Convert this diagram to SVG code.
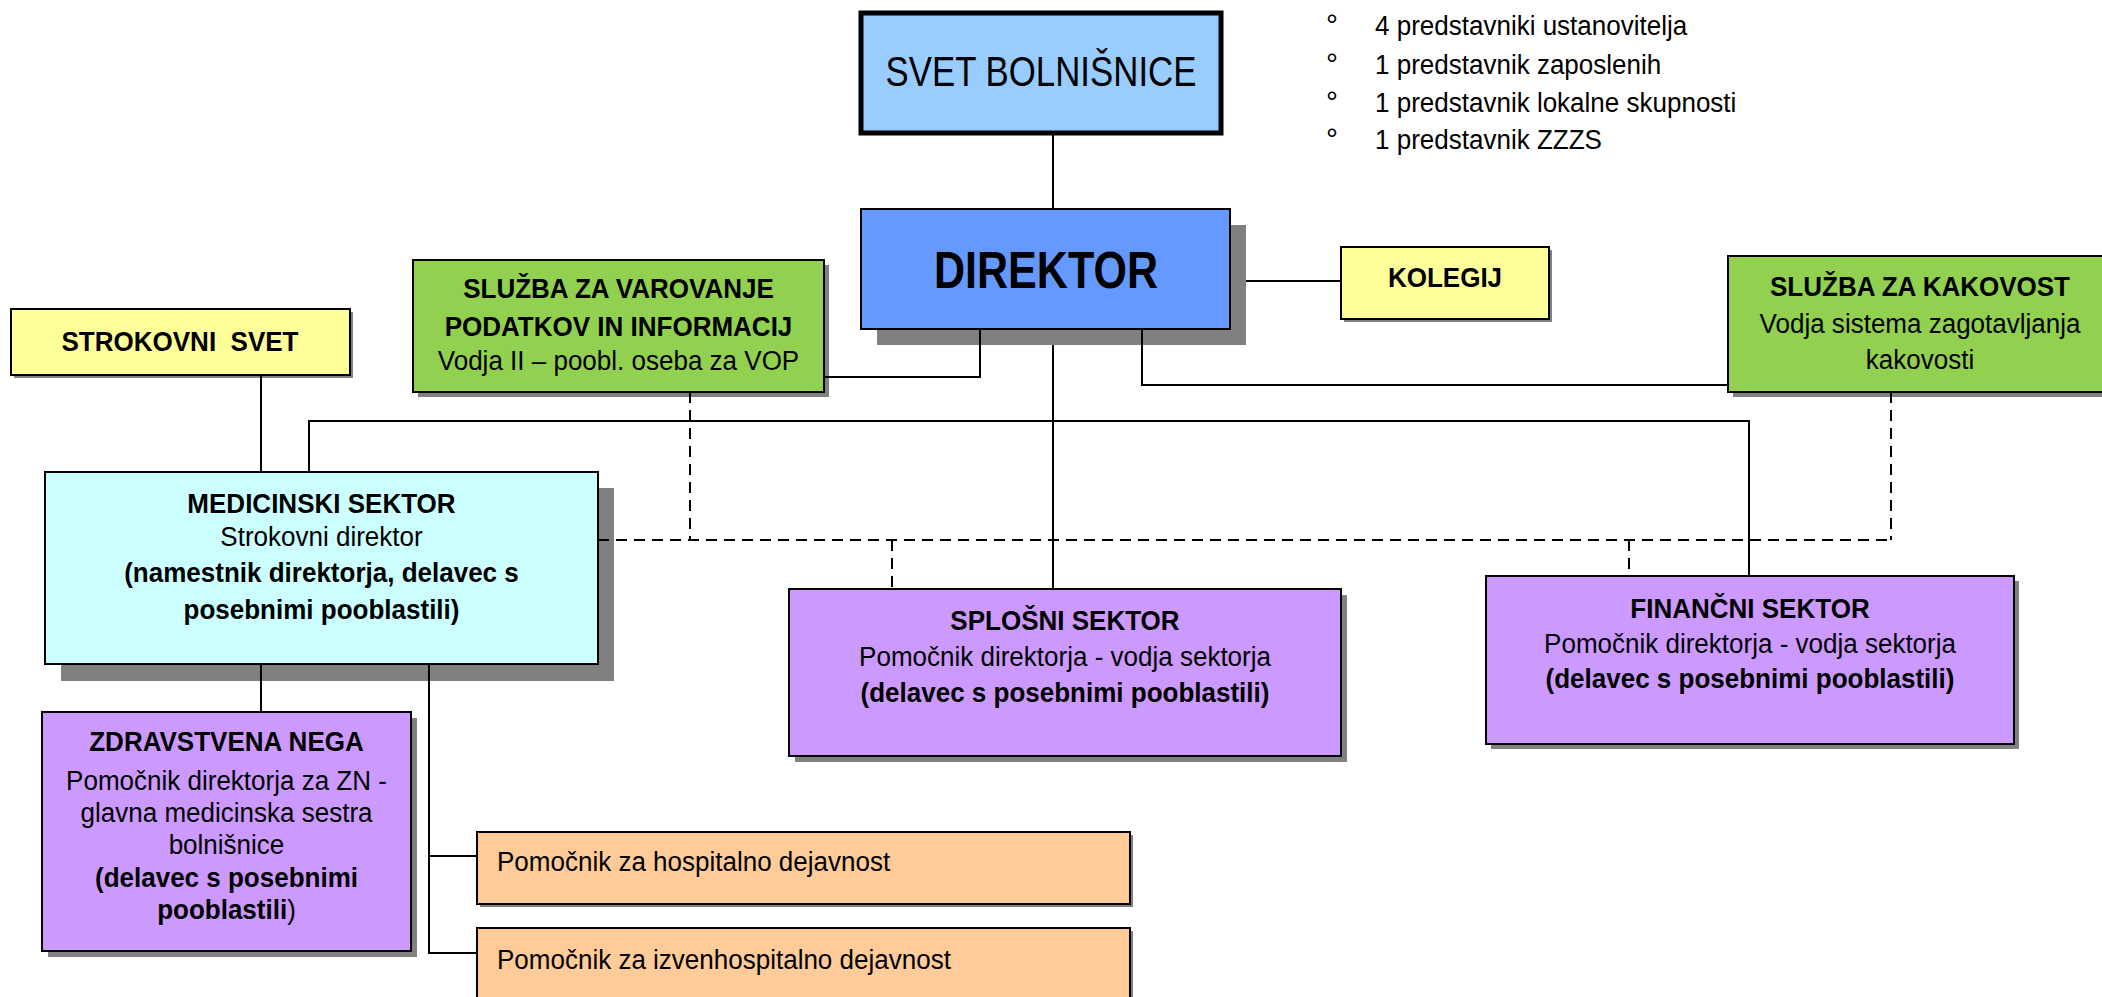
<svg xmlns="http://www.w3.org/2000/svg" width="2102" height="997" viewBox="0 0 2102 997">
<style>
text{font-family:"Liberation Sans",Arial,sans-serif;font-size:28px;fill:#000;transform-box:fill-box;transform-origin:50% 50%;transform:scaleX(.929)}
.l{transform-origin:0 50%}
.c{text-anchor:middle}
.b{font-weight:bold}
.big{transform:none}
.deg{transform:none;font-size:30px}
.box{stroke:#000;stroke-width:2}
.sh{fill:#808080}
.ln{stroke:#000;stroke-width:2;fill:none}
.dl{stroke:#000;stroke-width:2;fill:none;stroke-dasharray:11,7}
</style>
<rect width="2102" height="997" fill="#fff"/>

<g id="svet">
<rect x="861" y="13" width="360" height="120" fill="#99ccff" stroke="#000" stroke-width="5"/>
<text class="c big" x="1041" y="86" textLength="311" lengthAdjust="spacingAndGlyphs" style="font-size:43px">SVET BOLNIŠNICE</text>
</g>

<g id="clani">
<text class="deg" x="1326" y="35">°</text>
<text class="l" x="1375" y="35">4 predstavniki ustanovitelja</text>
<text class="deg" x="1326" y="74">°</text>
<text class="l" x="1375" y="74">1 predstavnik zaposlenih</text>
<text class="deg" x="1326" y="112">°</text>
<text class="l" x="1375" y="112">1 predstavnik lokalne skupnosti</text>
<text class="deg" x="1326" y="149">°</text>
<text class="l" x="1375" y="149">1 predstavnik ZZZS</text>
</g>

<g id="direktor">
<rect class="sh" x="877" y="225" width="369" height="120"/>
<rect class="box" x="861" y="209" width="369" height="120" fill="#6699ff"/>
<text class="c b big" x="1046" y="288" textLength="224" lengthAdjust="spacingAndGlyphs" style="font-size:52px">DIREKTOR</text>
</g>

<g id="kolegij">
<rect class="sh" x="1344" y="250" width="208" height="72"/>
<rect class="box" x="1341" y="247" width="208" height="72" fill="#ffff99"/>
<text class="c b" x="1445" y="287">KOLEGIJ</text>
</g>

<g id="strokovni-svet">
<rect class="sh" x="14" y="312" width="339" height="66"/>
<rect class="box" x="11" y="309" width="339" height="66" fill="#ffff99"/>
<text class="c b" x="180" y="351" xml:space="preserve">STROKOVNI  SVET</text>
</g>

<g id="varovanje">
<rect class="sh" x="418" y="265" width="411" height="132"/>
<rect class="box" x="413" y="260" width="411" height="132" fill="#92d050"/>
<text class="c b" x="618.5" y="298">SLUŽBA ZA VAROVANJE</text>
<text class="c b" x="618.5" y="336">PODATKOV IN INFORMACIJ</text>
<text class="c" x="618.5" y="370">Vodja II – poobl. oseba za VOP</text>
</g>

<g id="kakovost">
<rect class="sh" x="1733" y="261" width="384" height="136"/>
<rect class="box" x="1728" y="256" width="384" height="136" fill="#92d050"/>
<text class="c b" x="1920" y="296">SLUŽBA ZA KAKOVOST</text>
<text class="c" x="1920" y="333">Vodja sistema zagotavljanja</text>
<text class="c" x="1920" y="369">kakovosti</text>
</g>

<g id="medicinski">
<rect class="sh" x="61" y="488" width="553" height="193"/>
<rect class="box" x="45" y="472" width="553" height="192" fill="#ccffff"/>
<text class="c b" x="321.5" y="513">MEDICINSKI SEKTOR</text>
<text class="c" x="321.5" y="546">Strokovni direktor</text>
<text class="c b" x="321.5" y="582">(namestnik direktorja, delavec s</text>
<text class="c b" x="321.5" y="619">posebnimi pooblastili)</text>
</g>

<g id="zdravstvena-nega">
<rect class="sh" x="48" y="718" width="369" height="239"/>
<rect class="box" x="42" y="712" width="369" height="239" fill="#cc99ff"/>
<text class="c b" x="226.5" y="751">ZDRAVSTVENA NEGA</text>
<text class="c" x="226.5" y="790">Pomočnik direktorja za ZN -</text>
<text class="c" x="226.5" y="822">glavna medicinska sestra</text>
<text class="c" x="226.5" y="854">bolnišnice</text>
<text class="c b" x="226.5" y="887">(delavec s posebnimi</text>
<text class="c" x="226.5" y="919"><tspan class="b">pooblastili</tspan>)</text>
</g>

<g id="splosni">
<rect class="sh" x="795" y="595" width="552" height="167"/>
<rect class="box" x="789" y="589" width="552" height="167" fill="#cc99ff"/>
<text class="c b" x="1065" y="630">SPLOŠNI SEKTOR</text>
<text class="c" x="1065" y="666">Pomočnik direktorja - vodja sektorja</text>
<text class="c b" x="1065" y="702">(delavec s posebnimi pooblastili)</text>
</g>

<g id="financni">
<rect class="sh" x="1491" y="581" width="528" height="168"/>
<rect class="box" x="1486" y="576" width="528" height="168" fill="#cc99ff"/>
<text class="c b" x="1750" y="618">FINANČNI SEKTOR</text>
<text class="c" x="1750" y="653">Pomočnik direktorja - vodja sektorja</text>
<text class="c b" x="1750" y="688">(delavec s posebnimi pooblastili)</text>
</g>

<g id="hospitalno">
<rect class="sh" x="480" y="835" width="653" height="72"/>
<rect class="box" x="477" y="832" width="653" height="72" fill="#ffcc99"/>
<text class="l" x="497" y="871">Pomočnik za hospitalno dejavnost</text>
</g>

<g id="izvenhospitalno">
<rect class="sh" x="480" y="931" width="653" height="80"/>
<rect class="box" x="477" y="928" width="653" height="80" fill="#ffcc99"/>
<text class="l" x="497" y="969">Pomočnik za izvenhospitalno dejavnost</text>
</g>

<g id="connectors">
<path class="ln" d="M1053 135V209"/>
<path class="ln" d="M1246 281H1341"/>
<path class="ln" d="M1053 345V589"/>
<path class="ln" d="M980 329V377H824"/>
<path class="ln" d="M1142 329V385H1728"/>
<path class="ln" d="M309 472V421H1749V576"/>
<path class="ln" d="M261 375V472"/>
<path class="ln" d="M261 664V712"/>
<path class="ln" d="M429 664V953H477M429 856H477"/>
<path class="dl" d="M598 540H1891"/>
<path class="dl" d="M690 392V540"/>
<path class="dl" d="M1891 392V540"/>
<path class="dl" d="M892 540V589"/>
<path class="dl" d="M1629 540V576"/>
</g>
</svg>
